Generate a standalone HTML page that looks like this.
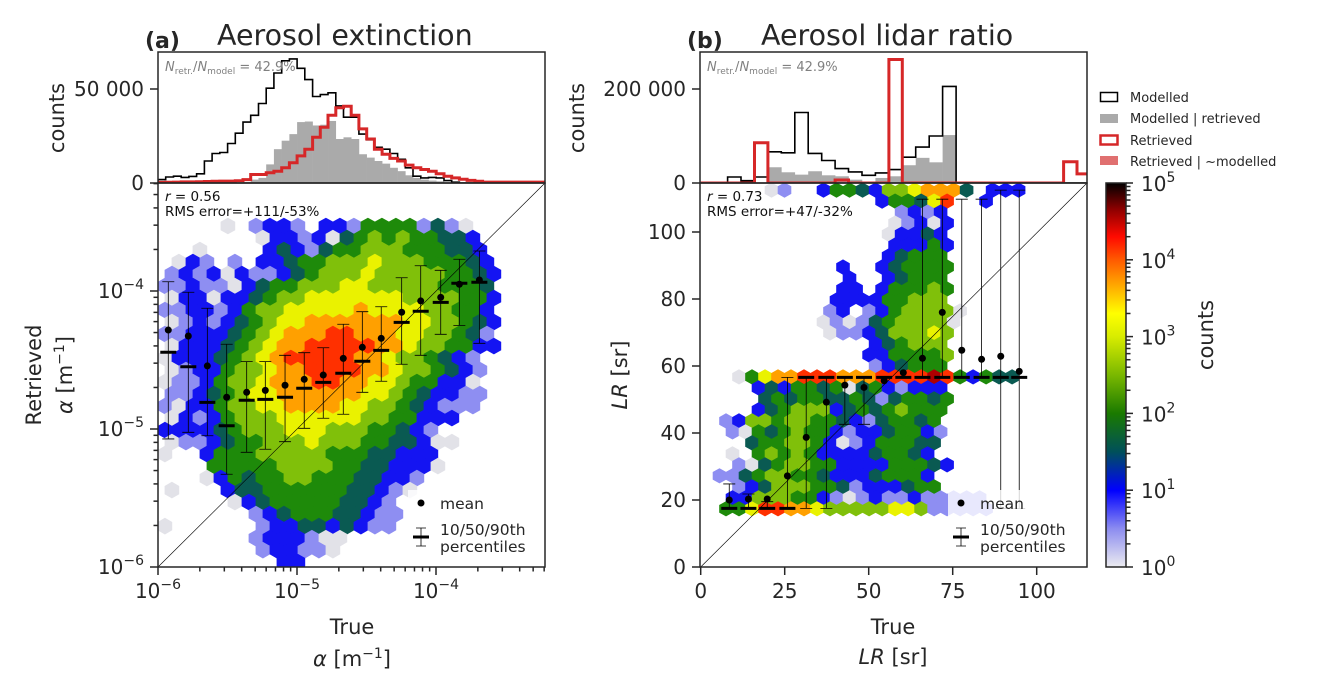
<!DOCTYPE html>
<html><head><meta charset="utf-8"><style>
html,body{margin:0;padding:0;background:#fff;}
svg{display:block;font-family:"DejaVu Sans","Liberation Sans",sans-serif;}
</style></head><body>
<svg id="fig" width="1317" height="696" viewBox="0 0 1317 696" xmlns="http://www.w3.org/2000/svg">
<defs>
<clipPath id="clipA"><rect x="158" y="183" width="387" height="384"/></clipPath>
<clipPath id="clipB"><rect x="700" y="183" width="387" height="384"/></clipPath>
<clipPath id="clipHA"><rect x="158" y="52" width="387" height="131"/></clipPath>
<clipPath id="clipHB"><rect x="700" y="52" width="387" height="131"/></clipPath>
<linearGradient id="cbar" x1="0" y1="1" x2="0" y2="0">
<stop offset="0" stop-color="#ececf0"/><stop offset="0.1" stop-color="#8c8cf0"/><stop offset="0.2" stop-color="#0000ff"/>
<stop offset="0.3" stop-color="#00505a"/><stop offset="0.4" stop-color="#1a7a00"/><stop offset="0.5" stop-color="#7ab800"/>
<stop offset="0.6" stop-color="#d8ec00"/><stop offset="0.66" stop-color="#ffff00"/><stop offset="0.74" stop-color="#ffa000"/>
<stop offset="0.8" stop-color="#ff5a00"/><stop offset="0.86" stop-color="#ff0a00"/><stop offset="0.93" stop-color="#900000"/><stop offset="1" stop-color="#000000"/>
</linearGradient>
</defs>
<rect x="0" y="0" width="1317" height="696" fill="#fff"/>
<g id="hexA" clip-path="url(#clipA)"></g>
<g id="hexB" clip-path="url(#clipB)"></g>
<g id="histA" clip-path="url(#clipHA)"></g>
<g id="histB" clip-path="url(#clipHB)"></g>
<line x1="158" y1="567" x2="545" y2="183" stroke="#000" stroke-width="0.6"/>
<line x1="700.7" y1="567" x2="1087" y2="183" stroke="#000" stroke-width="0.6"/>
<g id="statsA"></g>
<g id="statsB"></g>
<g id="ticks"></g>

<rect x="158" y="52" width="387" height="131" fill="none" stroke="#262626" stroke-width="1.5"/>
<rect x="158" y="183" width="387" height="384" fill="none" stroke="#262626" stroke-width="1.5"/>
<rect x="700" y="52" width="387" height="131" fill="none" stroke="#262626" stroke-width="1.5"/>
<rect x="700" y="183" width="387" height="384" fill="none" stroke="#262626" stroke-width="1.5"/>

<text x="145" y="48" font-size="22" font-weight="bold" fill="#262626">(a)</text>
<text x="217" y="45" font-size="28.5" fill="#262626">Aerosol extinction</text>
<text x="687" y="48" font-size="22" font-weight="bold" fill="#262626">(b)</text>
<text x="761" y="45" font-size="28.5" fill="#262626">Aerosol lidar ratio</text>

<text x="165" y="71" font-size="13" fill="#808080"><tspan font-style="italic">N</tspan><tspan font-size="9" dy="3">retr.</tspan><tspan dy="-3">/</tspan><tspan font-style="italic">N</tspan><tspan font-size="9" dy="3">model</tspan><tspan dy="-3"> = 42.9%</tspan></text>
<text x="707" y="71" font-size="13" fill="#808080"><tspan font-style="italic">N</tspan><tspan font-size="9" dy="3">retr.</tspan><tspan dy="-3">/</tspan><tspan font-style="italic">N</tspan><tspan font-size="9" dy="3">model</tspan><tspan dy="-3"> = 42.9%</tspan></text>

<text x="165" y="201" font-size="13.5" fill="#111"><tspan font-style="italic">r</tspan> = 0.56</text>
<text x="165" y="216" font-size="13.5" fill="#111">RMS error=+111/-53%</text>
<text x="707" y="201" font-size="13.5" fill="#111"><tspan font-style="italic">r</tspan> = 0.73</text>
<text x="707" y="216" font-size="13.5" fill="#111">RMS error=+47/-32%</text>

<text transform="translate(64,118) rotate(-90)" text-anchor="middle" font-size="21" fill="#262626">counts</text>
<text transform="translate(584,118) rotate(-90)" text-anchor="middle" font-size="21" fill="#262626">counts</text>
<text transform="translate(41,375) rotate(-90)" text-anchor="middle" font-size="21" fill="#262626">Retrieved</text>
<text transform="translate(72,375) rotate(-90)" text-anchor="middle" font-size="21" fill="#262626"><tspan font-style="italic">α</tspan> [m<tspan font-size="14" dy="-8">−1</tspan><tspan dy="8">]</tspan></text>
<text transform="translate(627,375) rotate(-90)" text-anchor="middle" font-size="21" fill="#262626"><tspan font-style="italic">LR</tspan> [sr]</text>
<text x="352" y="634" text-anchor="middle" font-size="21" fill="#262626">True</text>
<text x="352" y="666" text-anchor="middle" font-size="21" fill="#262626"><tspan font-style="italic">α</tspan> [m<tspan font-size="14" dy="-8">−1</tspan><tspan dy="8">]</tspan></text>
<text x="893" y="634" text-anchor="middle" font-size="21" fill="#262626">True</text>
<text x="893" y="664" text-anchor="middle" font-size="21" fill="#262626"><tspan font-style="italic">LR</tspan> [sr]</text>

<g>
<rect x="408" y="490" width="132" height="70" fill="#fff" fill-opacity="0.8"/>
<circle cx="421" cy="503" r="3.5" fill="#000"/>
<text x="440" y="509" font-size="15.5" fill="#262626">mean</text>
<path d="M421 528V546M416 528H426M416 546H426" stroke="#000" stroke-width="0.8" fill="none"/>
<line x1="413" y1="537" x2="429" y2="537" stroke="#000" stroke-width="3"/>
<text x="440" y="535" font-size="15.5" fill="#262626">10/50/90th</text>
<text x="440" y="552" font-size="15.5" fill="#262626">percentiles</text>
</g>
<g>
<rect x="948" y="490" width="134" height="70" fill="#fff" fill-opacity="0.8"/>
<circle cx="961" cy="503" r="3.5" fill="#000"/>
<text x="980" y="509" font-size="15.5" fill="#262626">mean</text>
<path d="M961 528V546M956 528H966M956 546H966" stroke="#000" stroke-width="0.8" fill="none"/>
<line x1="953" y1="537" x2="969" y2="537" stroke="#000" stroke-width="3"/>
<text x="980" y="535" font-size="15.5" fill="#262626">10/50/90th</text>
<text x="980" y="552" font-size="15.5" fill="#262626">percentiles</text>
</g>

<g>
<rect x="1100.5" y="92.5" width="17" height="9" fill="#fff" stroke="#000" stroke-width="1.5"/>
<text x="1130" y="102" font-size="13" fill="#262626">Modelled</text>
<rect x="1100" y="114" width="18" height="9" fill="#aaaaaa"/>
<text x="1130" y="123" font-size="13" fill="#262626">Modelled | retrieved</text>
<rect x="1100.5" y="135.5" width="17" height="9" fill="#fff" stroke="#d62728" stroke-width="2.5"/>
<text x="1130" y="145" font-size="13" fill="#262626">Retrieved</text>
<rect x="1100" y="156" width="18" height="9" fill="#e07070"/>
<text x="1130" y="166" font-size="13" fill="#262626">Retrieved | ~modelled</text>
</g>

<rect x="1106" y="183" width="20" height="384" fill="url(#cbar)" stroke="#262626" stroke-width="1.5"/>
<text transform="translate(1213,335) rotate(-90)" text-anchor="middle" font-size="21" fill="#262626">counts</text>
</svg>
<script>
const NS='http://www.w3.org/2000/svg';
const histA_binStart=-6, histA_binWidth=0.0556;
const histA_modelled=[1800,3200,3600,3000,3500,4900,11700,15700,16200,21000,26500,32400,36000,42300,50400,58500,65000,66000,61000,55000,46000,47000,48000,41000,35000,35000,26000,23000,19000,18000,15700,12600,8100,3600,2700,3000,2700,1300,400,0,0,0,0,0,0,0,0,0,0,0];
const histA_modRet=[0,0,0,0,0,0,0,0,0,0,0,500,1800,2700,9900,18000,22500,26000,32400,32700,30600,31000,33000,23400,24300,23400,15300,13500,11700,10300,8100,6300,4100,2700,1800,1300,900,0,0,0,0,0,0,0,0,0,0,0,0,0];
const histA_retrieved=[300,400,500,600,600,700,800,900,1000,1000,1200,1800,4500,4500,5400,6300,8100,10800,14400,18000,24300,29700,36000,40000,40800,36000,28800,23400,18000,15300,13100,11700,9500,8100,7200,6300,4900,3600,2700,2000,1400,900,500,500,500,500,500,500,500,500];
const histB_binWidth=4;
const histB_modelled=[0,0,12800,5000,12800,66400,64300,150000,63000,47800,30700,23600,16400,21400,28600,55000,76400,100000,205600,0,0,0,0,0,0,0,0,0,0];
const histB_modRet=[0,0,0,0,0,33500,22800,17800,25000,16400,14300,7100,1500,10700,14300,37800,53500,44000,102000,0,0,0,0,0,0,0,0,0,0];
const histB_retrieved=[0,0,0,0,85700,0,0,0,0,0,6400,0,0,0,262700,0,0,0,0,0,0,0,0,0,0,0,0,45000,19300];

const statA_x=[-5.926,-5.782,-5.645,-5.506,-5.362,-5.228,-5.086,-4.948,-4.811,-4.667,-4.530,-4.394,-4.247,-4.110,-3.966,-3.832,-3.688];
const statA_mean=[-4.283,-4.326,-4.543,-4.770,-4.734,-4.720,-4.683,-4.640,-4.609,-4.488,-4.408,-4.343,-4.154,-4.072,-4.046,-3.951,-3.920];
const statA_p50=[-4.444,-4.549,-4.807,-4.976,-4.792,-4.785,-4.770,-4.705,-4.662,-4.596,-4.509,-4.430,-4.227,-4.147,-4.082,-3.944,-3.937];
const statA_p10=[-5.072,-5.024,-5.049,-5.328,-5.169,-5.147,-5.092,-4.995,-4.922,-4.893,-4.734,-4.654,-4.531,-4.466,-4.314,-4.249,-4.379];
const statA_p90=[-3.933,-4.009,-4.125,-4.386,-4.512,-4.512,-4.466,-4.447,-4.411,-4.241,-4.150,-4.114,-3.904,-3.817,-3.850,-3.770,-3.710];
const statB_x=[8.5,14.2,19.8,25.8,31.4,37.4,42.9,48.6,54.6,60.3,66.0,71.9,77.7,83.6,89.3,94.8];
const statB_mean=[20.0,20.3,20.3,27.2,38.7,49.2,54.3,53.6,55.6,58.0,62.3,76.0,64.7,62.0,62.9,58.4];
const statB_p50=[17.5,17.5,17.5,17.5,56.6,56.6,56.6,56.6,56.6,56.6,56.6,56.6,56.6,56.6,56.6,56.6];
const statB_p10=[17.5,17.5,17.5,17.5,17.5,17.5,42.6,42.6,56.6,56.6,56.6,56.6,56.6,56.6,17.5,17.5];
const statB_p90=[24.8,21.8,19.5,56.6,56.6,56.6,56.6,56.6,56.6,56.6,109.8,109.8,109.8,109.8,112.5,112.5];

const hexA_x0=-5.95, hexA_dx=0.1007, hexA_y0=-3.268, hexA_dy=0.087;
const hexA_levels=[
"............................",
"............................",
"............................",
"....0.1221.22144441310......",
".......0221203454544332.....",
"..0....2321344555444332.....",
".021.1.22344555655544432....",
"121202112345556555554432....",
"112110234455566555554443....",
"022022345566666665555442....",
"112212455666667666655442....",
"012123456677777776655432....",
"112223456777887776655431....",
"022234567788888776554422....",
"02223456788888776554321.....",
"01224556778888776554321.....",
"01124556777887766544220.....",
"11234566777777665432211.....",
"10224556677776655432111.....",
"021245556666665544222.......",
"22223455566655544321........",
"011234455565554433200.......",
"0..24445555544433222........",
"...44444555544332220........",
"...0243445544433221.........",
"0...23344444433210..........",
".....023444443321...........",
"......12344433211...........",
"0......1223323211...........",
"......1222100...............",
".......122110...............",
"........22.................."];
const hexB_x0=1.73, hexB_dx=3.87, hexB_y0=112.5, hexB_dy=3.28;
const hexB_levels=[
".....01..244325567773.222....",
".............244368..2.......",
"...............1212..........",
"..............01202..........",
"..............02232..........",
"..............22242..........",
"..............23444..........",
"..........2..234444..........",
"...........2..23444..........",
"..........22.244454..........",
"..........222244555..........",
".........12.12455550.........",
".........01013455550.........",
".........0112355565..........",
".............234555..........",
"............2244445..........",
".............123444..........",
"..0467788877788889842433.....",
"....232443403421222..........",
"....343443343134434..........",
"....234555234345444..........",
".12554554432134434...........",
"..10434544212234421..........",
"...344554201244433...........",
"..0.45454222234432...........",
"..10345544222244432..........",
".11345544322234442...........",
"..1235554431222344...........",
"..22555442101211211111.......",
".446887765555566511111......."];
const levelColors=['#e2e2e8','#8e8ef2','#1414f2','#0a5a52','#1e8a0a','#80c00a','#eaf200','#ffa000','#ff3000','#b00000'];

const xA=l=>158+(l+6)*139;
const yA=l=>567-(l+6)*138;
const xB=v=>700.7+v*3.36;
const yB=v=>567-v*3.35;
const yHA=c=>183-c*94/50000;
const yHB=c=>183-c*94/200000;

function mk(tag,attrs,parent){const e=document.createElementNS(NS,tag);for(const k in attrs)e.setAttribute(k,attrs[k]);parent.appendChild(e);return e;}

function hexPts(cx,cy,w,h){return [[0,-h/2],[w/2,-h/4],[w/2,h/4],[0,h/2],[-w/2,h/4],[-w/2,-h/4]].map(p=>(cx+p[0]).toFixed(1)+','+(cy+p[1]).toFixed(1)).join(' ');}
function drawHex(g,levels,x0,dx,y0,dy,xs,ys,name){
  levels.forEach((row,r)=>{
    for(let c=0;c<row.length;c++){
      const ch=row[c]; if(ch==='.') continue;
      const xv=x0+c*dx+(r%2)*dx/2, yv=y0-r*dy;
      const cx=xs(xv), cy=ys(yv);
      const w=Math.abs(xs(x0+dx)-xs(x0))+0.6, h=Math.abs(ys(y0-dy)-ys(y0))*4/3+0.6;
      const p=mk('polygon',{points:hexPts(cx,cy,w,h),fill:levelColors[+ch]},g);
      
      
    }
  });
}
drawHex(document.getElementById('hexA'),hexA_levels,hexA_x0,hexA_dx,hexA_y0,hexA_dy,xA,yA,'hex-cell-a');
drawHex(document.getElementById('hexB'),hexB_levels,hexB_x0,hexB_dx,hexB_y0,hexB_dy,xB,yB,'hex-cell-b');

function stepPath(vals,edge,xs,ys){let d='M'+xs(edge(0)).toFixed(1)+','+ys(0).toFixed(1);
  vals.forEach((v,i)=>{d+='L'+xs(edge(i)).toFixed(1)+','+ys(v).toFixed(1)+'L'+xs(edge(i+1)).toFixed(1)+','+ys(v).toFixed(1);});
  d+='L'+xs(edge(vals.length)).toFixed(1)+','+ys(0).toFixed(1);return d;}
function drawHist(g,mod,modret,ret,edge,xs,ys,suffix){
  modret.forEach((v,i)=>{ if(v<=0) return;
    const r=mk('rect',{x:xs(edge(i)),y:ys(v),width:xs(edge(i+1))-xs(edge(i))+0.3,height:ys(0)-ys(v),fill:'#aaaaaa'},g);
    
    
  });
  const pm=mk('path',{d:stepPath(mod,edge,xs,ys),fill:'none',stroke:'#000','stroke-width':1.6},g);
  
  
  const pr=mk('path',{d:stepPath(ret,edge,xs,ys),fill:'none',stroke:'#d62728','stroke-width':3},g);
  
  
}
drawHist(document.getElementById('histA'),histA_modelled,histA_modRet,histA_retrieved,i=>histA_binStart+i*histA_binWidth,xA,yHA,'a');
drawHist(document.getElementById('histB'),histB_modelled,histB_modRet,histB_retrieved,i=>i*histB_binWidth,xB,yHB,'b');

function drawStats(g,xsArr,mean,p10,p50,p90,xs,ys,suffix){
  xsArr.forEach((xv,i)=>{
    const x=xs(xv);
    const eb=mk('path',{d:`M${x},${ys(p10[i])}V${ys(p90[i])}M${x-6},${ys(p10[i])}H${x+6}M${x-6},${ys(p90[i])}H${x+6}`,stroke:'#000','stroke-width':0.8,fill:'none'},g);
    
    
    const md=mk('line',{x1:x-8,x2:x+8,y1:ys(p50[i]),y2:ys(p50[i]),stroke:'#000','stroke-width':3},g);
    
    
    const mc=mk('circle',{cx:x,cy:ys(mean[i]),r:3.5,fill:'#000'},g);
    
    
  });
}
drawStats(document.getElementById('statsA'),statA_x,statA_mean,statA_p10,statA_p50,statA_p90,xA,yA,'a');
drawStats(document.getElementById('statsB'),statB_x,statB_mean,statB_p10,statB_p50,statB_p90,xB,yB,'b');

const tg=document.getElementById('ticks');
const C='#262626';
function tick(x1,y1,x2,y2,name){const t=mk('line',{x1,y1,x2,y2,stroke:C,'stroke-width':1.5},tg);
  
  }
function label(x,y,txt,anchor,name,sup){const t=mk('text',{x,y,'text-anchor':anchor,'font-size':20,fill:C},tg);
  t.appendChild(document.createTextNode(txt));
  if(sup){const s=mk('tspan',{'font-size':14,dy:-9},t);s.appendChild(document.createTextNode(sup));}
  
  }
const logMajors=[-6,-5,-4];
const logSup=['−6','−5','−4'];
const linTicksBX=[0,25,50,75,100];
const linTicksBY=[0,20,40,60,80,100];
logMajors.forEach((d,i)=>{
  tick(xA(d),567,xA(d),575,'x-tick-a');label(xA(d),598,'10','middle','x-tick-label-a',logSup[i]);
  tick(150,yA(d),158,yA(d),'y-tick-a');label(144,yA(d)+7,'10','end','y-tick-label-a',logSup[i]);
  for(let k=2;k<10;k++){const l=d+Math.log10(k);
    if(xA(l)<=545) tick(xA(l),567,xA(l),571.5,'x-minor-tick-a');
    if(yA(l)>=183) tick(153.5,yA(l),158,yA(l),'y-minor-tick-a');}
});
linTicksBX.forEach(v=>{tick(xB(v),567,xB(v),575,'x-tick-b');label(xB(v),598,String(v),'middle','x-tick-label-b');});
linTicksBY.forEach(v=>{tick(692,yB(v),700,yB(v),'y-tick-b');label(686,yB(v)+7,String(v),'end','y-tick-label-b');});
tick(150,yHA(0),158,yHA(0),'hist-a-y-tick');label(144,yHA(0)+7,'0','end','hist-a-y-tick-label');
tick(150,yHA(50000),158,yHA(50000),'hist-a-y-tick');label(144,yHA(50000)+7,'50 000','end','hist-a-y-tick-label');
tick(692,yHB(0),700,yHB(0),'hist-b-y-tick');label(686,yHB(0)+7,'0','end','hist-b-y-tick-label');
tick(692,yHB(200000),700,yHB(200000),'hist-b-y-tick');label(686,yHB(200000)+7,'200 000','end','hist-b-y-tick-label');
const cbY=l=>567-l*384/5;
for(let d=0;d<=5;d++){tick(1126,cbY(d),1133,cbY(d),'colorbar-tick');label(1141,cbY(d)+8,'10','start','colorbar-tick-label',String(d));
  if(d<5) for(let k=2;k<10;k++) tick(1126,cbY(d+Math.log10(k)),1130.5,cbY(d+Math.log10(k)),'colorbar-minor-tick');}
</script>
</body></html>
